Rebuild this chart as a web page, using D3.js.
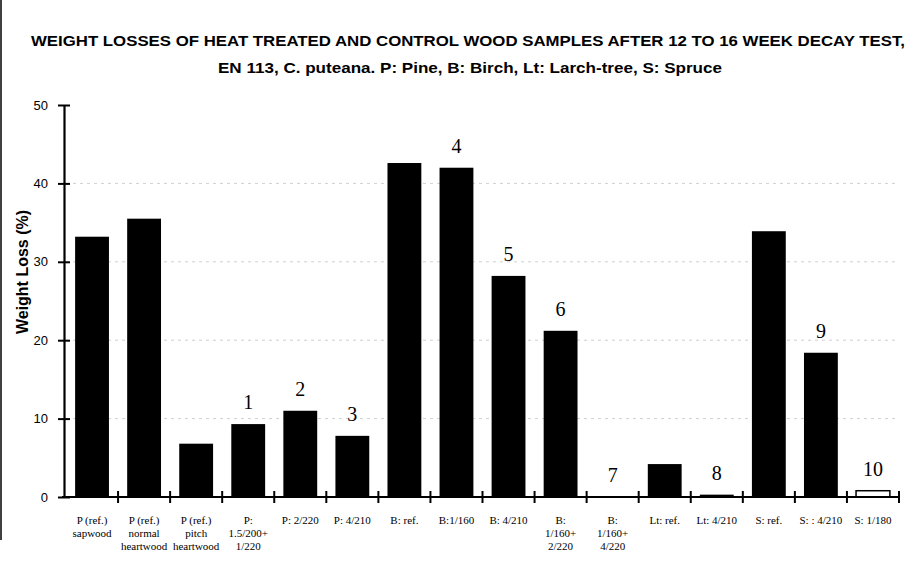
<!DOCTYPE html>
<html>
<head>
<meta charset="utf-8">
<script src="https://cdn.jsdelivr.net/npm/d3@7"></script>
<style>
  body { margin: 0; background: #fff; }
  svg { display: block; }
</style>
</head>
<body>
<div id="chart"></div>
<script>
// categories (multi-line labels split by "|")
const categories = [
  "P (ref.)|sapwood", "P (ref.)|normal|heartwood", "P (ref.)|pitch|heartwood",
  "P:|1.5/200+|1/220", "P: 2/220", "P: 4/210", "B: ref.", "B:1/160", "B: 4/210",
  "B:|1/160+|2/220", "B:|1/160+|4/220", "Lt: ref.", "Lt: 4/210", "S: ref.",
  "S: : 4/210", "S: 1/180"
];
// weight loss (%)
const weightLoss = [33.2, 35.5, 6.8, 9.3, 11.0, 7.8, 42.6, 42.0, 28.2, 21.2, 0, 4.2, 0.3, 33.9, 18.4, 0.8];
// treatment numbers shown above bars (empty = none)
const treatNo = ["", "", "", "1", "2", "3", "", "4", "5", "6", "7", "", "8", "", "9", "10"];
const yTicks = [0, 10, 20, 30, 40, 50];

const W = 923, H = 564;
const margin = { left: 66, right: 24, top: 105, bottom: 67 };

const svg = d3.select("#chart").append("svg")
  .attr("width", W).attr("height", H);

// left frame edge
svg.append("line").attr("x1", 1).attr("x2", 1).attr("y1", 0).attr("y2", 540)
  .attr("stroke", "#000").attr("stroke-width", 1.5);

// title
svg.append("text").attr("x", 468).attr("y", 46).attr("text-anchor", "middle")
  .attr("font-family", "'Liberation Sans Narrow', 'Arial Narrow', Arial, sans-serif")
  .attr("font-weight", "bold").attr("font-size", 15)
  .attr("textLength", 874).attr("lengthAdjust", "spacingAndGlyphs")
  .text("WEIGHT LOSSES OF HEAT TREATED AND CONTROL WOOD SAMPLES AFTER 12 TO 16 WEEK DECAY TEST,");
svg.append("text").attr("x", 470).attr("y", 73).attr("text-anchor", "middle")
  .attr("font-family", "'Liberation Sans Narrow', 'Arial Narrow', Arial, sans-serif")
  .attr("font-weight", "bold").attr("font-size", 15)
  .attr("textLength", 504).attr("lengthAdjust", "spacingAndGlyphs")
  .text("EN 113, C. puteana. P: Pine, B: Birch, Lt: Larch-tree, S: Spruce");

const x = d3.scaleBand()
  .domain(d3.range(categories.length))
  .range([margin.left, W - margin.right])
  .paddingInner(0.35).paddingOuter(0.175);

const y = d3.scaleLinear().domain([0, 50]).range([H - margin.bottom, margin.top]);

// faint dotted gridlines
svg.append("g").selectAll("line").data(yTicks.filter(d => d > 0 && d < 50)).join("line")
  .attr("x1", margin.left).attr("x2", W - margin.right)
  .attr("y1", d => y(d)).attr("y2", d => y(d))
  .attr("stroke", "#d0d0d0").attr("stroke-width", 1).attr("stroke-dasharray", "3,4");

// bars
svg.append("g").selectAll("rect").data(weightLoss).join("rect")
  .attr("x", (d, i) => x(i))
  .attr("width", x.bandwidth())
  .attr("y", d => y(d))
  .attr("height", d => y(0) - y(d))
  .attr("fill", (d, i) => i === categories.length - 1 ? "#fff" : "#000")
  .attr("stroke", "#000")
  .attr("stroke-width", (d, i) => i === categories.length - 1 ? 1.5 : 0);

// y axis
const yAxis = svg.append("g").attr("transform", `translate(${margin.left - 2},0)`)
  .call(d3.axisLeft(y).tickValues(yTicks).tickSize(6).tickSizeOuter(0));
yAxis.select(".domain").attr("stroke-width", 2.2);
yAxis.selectAll(".tick line").attr("x2", 6).attr("x1", -6).attr("stroke-width", 2);
yAxis.selectAll(".tick text").attr("x", -16)
  .attr("font-family", "Arial, 'Liberation Sans', sans-serif").attr("font-size", 13);

// x axis with ticks at band boundaries
const step = x.step();
const x0 = x(0) - x.paddingOuter() * step;
const bounds = d3.range(categories.length + 1).map(i => x0 + i * step);
svg.append("line").attr("x1", margin.left - 4).attr("x2", bounds[bounds.length - 1])
  .attr("y1", y(0)).attr("y2", y(0)).attr("stroke", "#000").attr("stroke-width", 2.2);
svg.append("g").selectAll("line").data(bounds.slice(1)).join("line")
  .attr("x1", d => d).attr("x2", d => d)
  .attr("y1", y(0) - 6).attr("y2", y(0) + 6)
  .attr("stroke", "#000").attr("stroke-width", 2);

// x labels
const xl = svg.append("g").attr("font-family", "'Liberation Serif', 'Times New Roman', serif")
  .attr("font-size", 11).attr("text-anchor", "middle");
categories.forEach((c, i) => {
  const t = xl.append("text").attr("x", x(i) + x.bandwidth() / 2).attr("y", 524);
  c.split("|").forEach((line, k) => {
    t.append("tspan").attr("x", x(i) + x.bandwidth() / 2).attr("dy", k === 0 ? 0 : 13).text(line);
  });
});

// treatment numbers
svg.append("g").selectAll("text").data(treatNo).join("text")
  .attr("x", (d, i) => x(i) + x.bandwidth() / 2)
  .attr("y", (d, i) => y(weightLoss[i]) - 15)
  .attr("text-anchor", "middle")
  .attr("font-family", "'Liberation Serif', 'Times New Roman', serif")
  .attr("font-size", 20)
  .text(d => d);

// y axis title
svg.append("text").attr("transform", "translate(28,272) rotate(-90)")
  .attr("text-anchor", "middle")
  .attr("font-family", "Arial, 'Liberation Sans', sans-serif")
  .attr("font-weight", "bold").attr("font-size", 16)
  .text("Weight Loss (%)");
</script>
</body>
</html>
